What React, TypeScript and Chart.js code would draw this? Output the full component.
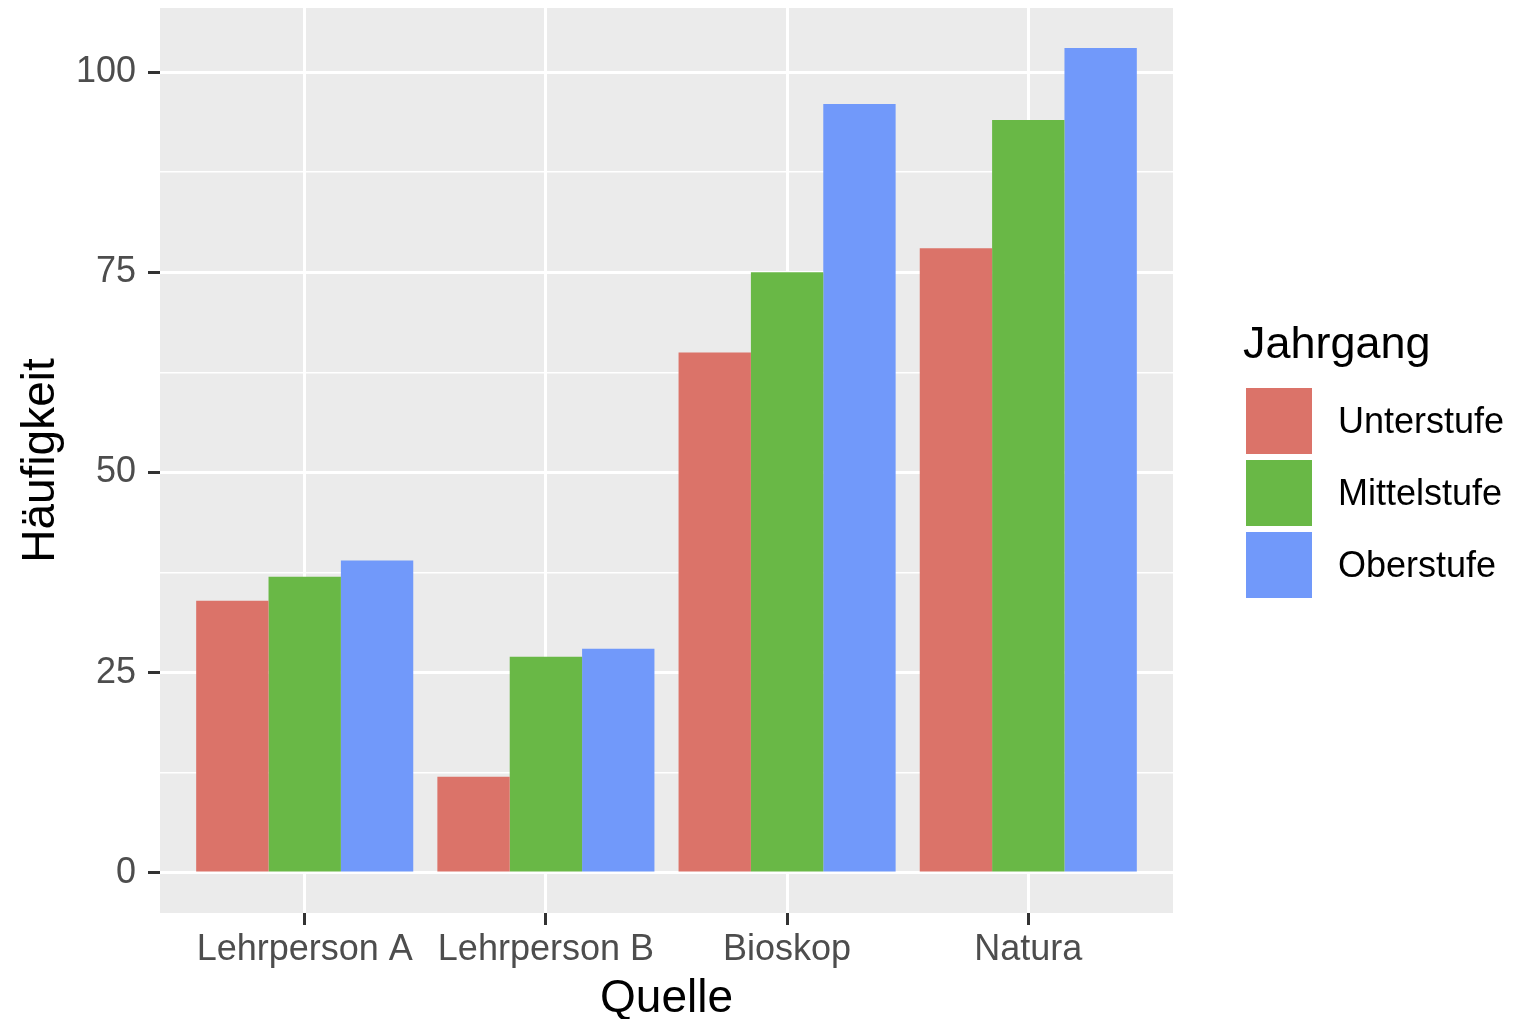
import React, { useEffect, useRef } from "react";
import { Chart, registerables } from "chart.js";

Chart.register(...registerables);

const categories = ["Lehrperson A", "Lehrperson B", "Bioskop", "Natura"];
const seriesNames = ["Unterstufe", "Mittelstufe", "Oberstufe"];
const unterstufe = [34, 12, 65, 78];
const mittelstufe = [37, 27, 75, 94];
const oberstufe = [39, 28, 96, 103];
const seriesColors = ["#DB7369", "#69B846", "#7199FA"];
const yMajorTicks = [0, 25, 50, 75, 100];
const yMinorTicks = [12.5, 37.5, 62.5, 87.5];

const FONT = "'Liberation Sans', Arial, Helvetica, sans-serif";

const panelBg = {
  id: "panelBg",
  beforeDraw(chart: any) {
    const { ctx, chartArea } = chart;
    ctx.save();
    ctx.fillStyle = "#EBEBEB";
    ctx.fillRect(chartArea.left, chartArea.top, chartArea.right - chartArea.left, chartArea.bottom - chartArea.top);
    ctx.restore();
  },
};

const customLegend = {
  id: "customLegend",
  afterDraw(chart: any) {
    const { ctx } = chart;
    ctx.save();
    ctx.fillStyle = "#000000";
    ctx.font = `45px ${FONT}`;
    ctx.textBaseline = "alphabetic";
    ctx.textAlign = "left";
    ctx.fillText("Jahrgang", 1243, 358);
    const x0 = 1246;
    const y0 = 388;
    const size = 66;
    const step = 72;
    seriesNames.forEach((name, i) => {
      ctx.fillStyle = seriesColors[i];
      ctx.fillRect(x0, y0 + i * step, size, size);
      ctx.fillStyle = "#000000";
      ctx.font = `36px ${FONT}`;
      ctx.textBaseline = "middle";
      ctx.fillText(name, 1338, y0 + i * step + size / 2 + 2);
    });
    ctx.restore();
  },
};

export default function App() {
  const ref = useRef<HTMLCanvasElement | null>(null);
  useEffect(() => {
    if (!ref.current) return;
    const seriesData = [unterstufe, mittelstufe, oberstufe];
    const chart = new Chart(ref.current, {
      type: "bar",
      data: {
        datasets: seriesNames.map((name, i) => ({
          label: name,
          data: categories.map((_, j) => ({ x: j + 1, y: seriesData[i][j] })),
          backgroundColor: seriesColors[i],
          borderWidth: 0,
          barPercentage: 1.0,
          categoryPercentage: 0.9,
        })),
      },
      options: {
        animation: false,
        responsive: false,
        maintainAspectRatio: false,
        layout: { padding: { left: 0, right: 353, top: 8, bottom: 0 } },
        plugins: { legend: { display: false }, tooltip: { enabled: false } },
        scales: {
          x: {
            type: "linear",
            min: 0.4,
            max: 4.6,
            offset: false,
            afterBuildTicks: (scale: any) => {
              scale.ticks = categories.map((_, j) => ({ value: j + 1 }));
            },
            afterFit: (scale: any) => {
              scale.height = 106;
              scale.paddingLeft = 0;
              scale.paddingRight = 0;
            },
            grid: {
              offset: false,
              color: "#FFFFFF",
              lineWidth: 3,
              drawTicks: true,
              tickLength: 12,
              tickColor: "#333333",
              tickWidth: 3,
            },
            border: { display: false },
            ticks: {
              autoSkip: false,
              maxRotation: 0,
              padding: 3,
              color: "#4D4D4D",
              font: { family: FONT, size: 36 },
              callback: (v: any) => categories[Math.round(Number(v)) - 1] ?? "",
            },
            title: {
              display: true,
              text: "Quelle",
              color: "#000000",
              font: { family: FONT, size: 46, lineHeight: 0.85 },
              padding: { top: 0, bottom: 0 },
            },
          },
          y: {
            min: -5.0,
            max: 108.0,
            afterBuildTicks: (scale: any) => {
              const all = [...yMajorTicks, ...yMinorTicks].sort((a, b) => a - b);
              scale.ticks = all.map((v) => ({ value: v }));
            },
            afterFit: (scale: any) => {
              scale.width = 160;
              scale.paddingTop = 0;
              scale.paddingBottom = 0;
            },
            grid: {
              color: "#FFFFFF",
              lineWidth: (c: any) => (yMajorTicks.includes(c.tick?.value) ? 3 : 1.5),
              drawTicks: true,
              tickLength: 12,
              tickColor: (c: any) => (yMajorTicks.includes(c.tick?.value) ? "#333333" : "rgba(0,0,0,0)"),
              tickWidth: 3,
            },
            border: { display: false },
            ticks: {
              autoSkip: false,
              padding: 12,
              color: "#4D4D4D",
              font: { family: FONT, size: 36 },
              callback: (v: any) => (yMajorTicks.includes(Number(v)) ? String(v) : ""),
            },
            title: {
              display: true,
              text: "Häufigkeit",
              color: "#000000",
              font: { family: FONT, size: 46 },
              padding: { top: 14, bottom: 0 },
            },
          },
        },
      },
      plugins: [panelBg, customLegend],
    } as any);
    return () => chart.destroy();
  }, []);
  return (
    <div style={{ position: "fixed", left: 0, top: 0, width: 1526, height: 1019, background: "#FFFFFF" }}>
      <canvas ref={ref} width={1526} height={1019} style={{ width: 1526, height: 1019, display: "block" }} />
    </div>
  );
}
